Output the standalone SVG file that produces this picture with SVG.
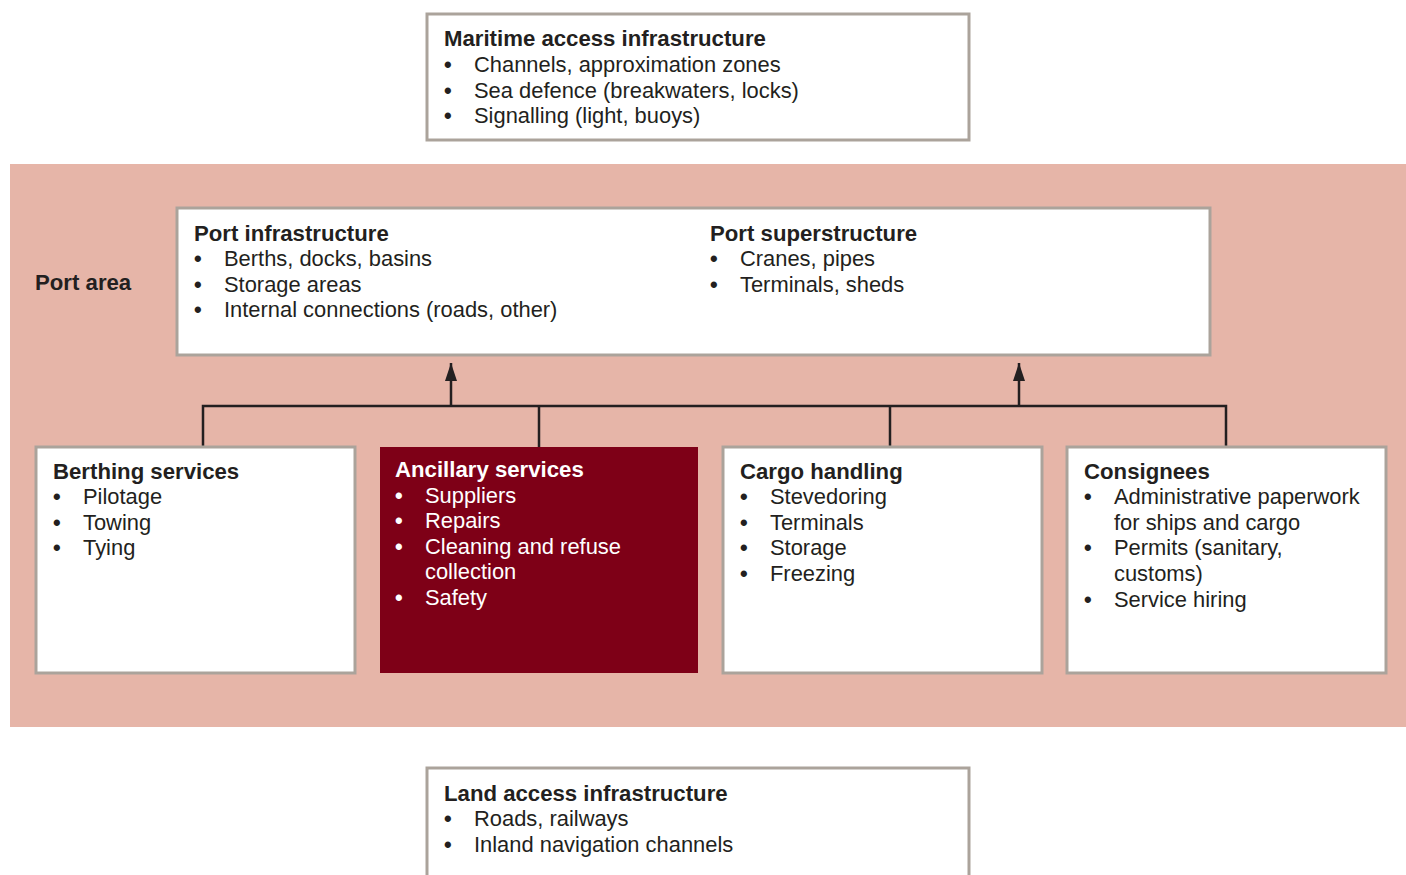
<svg xmlns="http://www.w3.org/2000/svg" width="1406" height="875" viewBox="0 0 1406 875">
<defs>
<style>
.box{fill:#fff;stroke:#aba39b;stroke-width:3}
.t{font-family:"Liberation Sans",Arial,sans-serif;font-size:21.9px;fill:#231f20}
.b{font-weight:bold;font-size:22.2px}
.d{font-weight:bold}
.w{fill:#fff}
.c{fill:none;stroke:#231f20;stroke-width:2.5}
</style>
<marker id="ah" viewBox="0 0 18 12" refX="18" refY="6" markerWidth="18" markerHeight="12" markerUnits="userSpaceOnUse" orient="auto">
<path d="M0,0 L18,6 L0,12 z" fill="#231f20"/>
</marker>
</defs>
<rect width="1406" height="875" fill="#fff"/>
<rect id="port-area" x="10" y="164" width="1396" height="563" fill="#e6b5a8"/>
<text class="t b" x="35" y="290">Port area</text>

<g id="maritime">
<rect class="box" x="427" y="14" width="542" height="126"/>
<text class="t b" x="444" y="46">Maritime access infrastructure</text>
<text class="t d" x="444" y="72">•</text><text class="t" x="474" y="72">Channels, approximation zones</text>
<text class="t d" x="444" y="98">•</text><text class="t" x="474" y="98">Sea defence (breakwaters, locks)</text>
<text class="t d" x="444" y="123">•</text><text class="t" x="474" y="123">Signalling (light, buoys)</text>
</g>

<g id="port-infra">
<rect class="box" x="177" y="208" width="1033" height="147"/>
<text class="t b" x="194" y="241">Port infrastructure</text>
<text class="t d" x="194" y="266">•</text><text class="t" x="224" y="266">Berths, docks, basins</text>
<text class="t d" x="194" y="292">•</text><text class="t" x="224" y="292">Storage areas</text>
<text class="t d" x="194" y="317">•</text><text class="t" x="224" y="317">Internal connections (roads, other)</text>
<text class="t b" x="710" y="241">Port superstructure</text>
<text class="t d" x="710" y="266">•</text><text class="t" x="740" y="266">Cranes, pipes</text>
<text class="t d" x="710" y="292">•</text><text class="t" x="740" y="292">Terminals, sheds</text>
</g>

<g id="connectors">
<path class="c" d="M203,447 V406 H1226 V447"/>
<path class="c" d="M539,406 V447"/>
<path class="c" d="M890,406 V447"/>
<path class="c" d="M451,406 V363" marker-end="url(#ah)"/>
<path class="c" d="M1019,406 V363" marker-end="url(#ah)"/>
</g>

<g id="berthing">
<rect class="box" x="36" y="447" width="319" height="226"/>
<text class="t b" x="53" y="479">Berthing services</text>
<text class="t d" x="53" y="504">•</text><text class="t" x="83" y="504">Pilotage</text>
<text class="t d" x="53" y="530">•</text><text class="t" x="83" y="530">Towing</text>
<text class="t d" x="53" y="555">•</text><text class="t" x="83" y="555">Tying</text>
</g>

<g id="ancillary">
<rect x="380" y="447" width="318" height="226" fill="#7e0017"/>
<text class="t b w" x="395" y="477">Ancillary services</text>
<text class="t d w" x="395" y="503">•</text><text class="t w" x="425" y="503">Suppliers</text>
<text class="t d w" x="395" y="528">•</text><text class="t w" x="425" y="528">Repairs</text>
<text class="t d w" x="395" y="554">•</text><text class="t w" x="425" y="554">Cleaning and refuse</text>
<text class="t w" x="425" y="579">collection</text>
<text class="t d w" x="395" y="605">•</text><text class="t w" x="425" y="605">Safety</text>
</g>

<g id="cargo">
<rect class="box" x="723" y="447" width="319" height="226"/>
<text class="t b" x="740" y="479">Cargo handling</text>
<text class="t d" x="740" y="504">•</text><text class="t" x="770" y="504">Stevedoring</text>
<text class="t d" x="740" y="530">•</text><text class="t" x="770" y="530">Terminals</text>
<text class="t d" x="740" y="555">•</text><text class="t" x="770" y="555">Storage</text>
<text class="t d" x="740" y="581">•</text><text class="t" x="770" y="581">Freezing</text>
</g>

<g id="consignees">
<rect class="box" x="1067" y="447" width="319" height="226"/>
<text class="t b" x="1084" y="479">Consignees</text>
<text class="t d" x="1084" y="504">•</text><text class="t" x="1114" y="504">Administrative paperwork</text>
<text class="t" x="1114" y="530">for ships and cargo</text>
<text class="t d" x="1084" y="555">•</text><text class="t" x="1114" y="555">Permits (sanitary,</text>
<text class="t" x="1114" y="581">customs)</text>
<text class="t d" x="1084" y="607">•</text><text class="t" x="1114" y="607">Service hiring</text>
</g>

<g id="land">
<rect class="box" x="427" y="768" width="542" height="120"/>
<text class="t b" x="444" y="801">Land access infrastructure</text>
<text class="t d" x="444" y="826">•</text><text class="t" x="474" y="826">Roads, railways</text>
<text class="t d" x="444" y="852">•</text><text class="t" x="474" y="852">Inland navigation channels</text>
</g>
</svg>
